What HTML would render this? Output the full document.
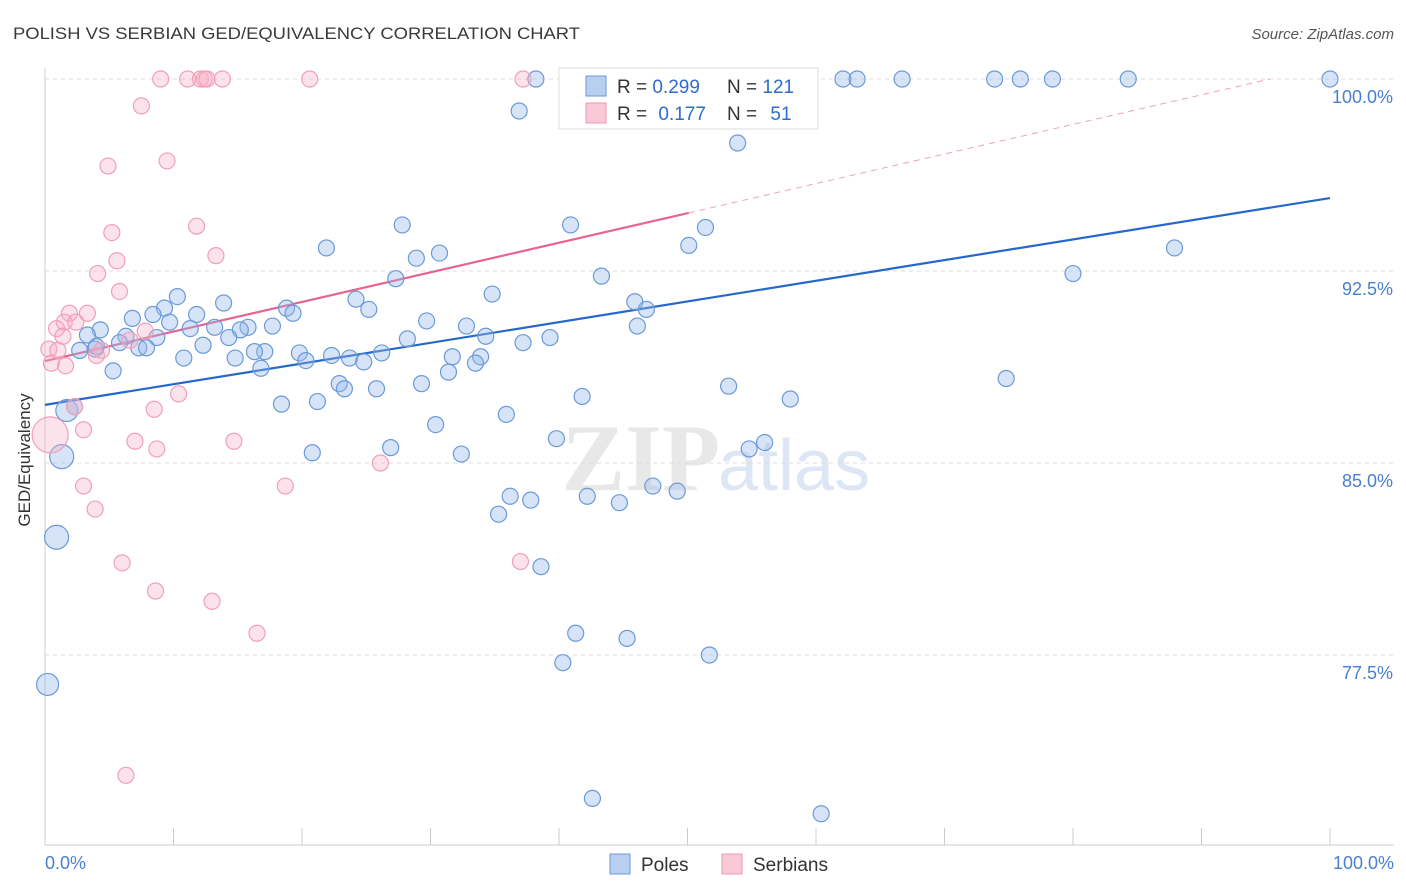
<!DOCTYPE html>
<html><head><meta charset="utf-8"><style>
body{margin:0;background:#fff;width:1406px;height:892px;overflow:hidden;font-family:"Liberation Sans",sans-serif}
svg{position:absolute;left:0;top:0}
</style></head><body>
<svg id="chart" width="1406" height="892" xmlns="http://www.w3.org/2000/svg">
<text x="13" y="39" font-size="17" fill="#3a3a3a" textLength="567" lengthAdjust="spacingAndGlyphs">POLISH VS SERBIAN GED/EQUIVALENCY CORRELATION CHART</text>
<text x="1394" y="39" font-size="15" fill="#555" font-style="italic" text-anchor="end">Source: ZipAtlas.com</text>
<text x="720" y="490" font-size="95" fill="#e8e8e8" text-anchor="end" font-family="Liberation Serif" font-weight="bold">ZIP</text>
<text x="718" y="490" font-size="72" fill="#dce6f4">atlas</text>
<g id="grid"></g><g id="axes"></g><g id="lines"></g><g id="pts"></g>
<text x="30" y="460" font-size="17" fill="#333" text-anchor="middle" transform="rotate(-90 30 460)">GED/Equivalency</text>
<text x="45" y="869" font-size="18" fill="#4a7fd0">0.0%</text>
<text x="1394" y="869" font-size="18" fill="#4a7fd0" text-anchor="end">100.0%</text>
<g>
<rect x="559" y="68" width="259" height="61" fill="#fff" stroke="#ddd"/>
<rect x="586" y="76" width="20" height="20" fill="#b8cff0" stroke="#6a9ad8"/>
<rect x="586" y="103" width="20" height="20" fill="#f8c8d6" stroke="#ee9ab4"/>
<text x="617" y="93" font-size="19" fill="#333">R = <tspan fill="#2f6ccc">0.299</tspan></text>
<text x="727" y="93" font-size="19" fill="#333">N = <tspan fill="#2f6ccc">121</tspan></text>
<text x="617" y="120" font-size="19" fill="#333">R = <tspan fill="#2f6ccc" dx="6">0.177</tspan></text>
<text x="727" y="120" font-size="19" fill="#333">N = <tspan fill="#2f6ccc" dx="8">51</tspan></text>
</g>
<g>
<rect x="610" y="854" width="20" height="20" fill="#b8cff0" stroke="#6a9ad8"/>
<text x="641" y="871" font-size="19" fill="#333">Poles</text>
<rect x="722" y="854" width="20" height="20" fill="#f8c8d6" stroke="#ee9ab4"/>
<text x="753" y="871" font-size="19" fill="#333">Serbians</text>
</g>
</svg>
<script>
const yTicks=[100,92.5,85,77.5];
const yTickLabels=["100.0%","92.5%","85.0%","77.5%"];
const xTicks=[0,10,20,30,40,50,60,70,80,90,100];
const polesX=[38.2,47.7,54.2,62.1,63.2,66.7,73.9,75.9,78.4,84.3,100,36.9,53.9,27.8,40.9,21.9,30.7,28.9,50.1,51.4,27.3,43.3,80.0,87.9,10.3,13.9,9.3,8.4,11.8,18.8,19.3,24.2,25.2,34.8,45.9,46.8,29.7,32.8,34.3,46.1,39.3,37.2,28.2,6.8,4.3,3.3,6.3,8.7,13.2,15.8,17.7,15.2,17.1,9.7,11.3,12.3,14.3,2.7,3.9,5.8,7.3,7.9,10.8,14.8,16.3,16.8,19.8,20.3,22.3,23.7,24.8,26.2,31.7,33.9,33.5,31.4,5.3,22.9,23.3,25.8,29.3,21.2,18.4,41.8,53.2,58.0,74.8,35.9,30.4,39.8,54.8,56.0,20.8,26.9,32.4,47.3,49.2,42.2,44.7,36.2,37.8,35.3,38.6,41.3,45.3,40.3,51.7,42.6,60.4,1.7,2.3,1.3,0.9,0.2,4.0];
const polesY=[100,100,100,100,100,100,100,100,100,100,100,98.75,97.5,94.3,94.3,93.4,93.2,93.0,93.5,94.2,92.2,92.3,92.4,93.4,91.5,91.25,91.05,90.8,90.8,91.05,90.85,91.4,91.0,91.6,91.3,91.0,90.55,90.35,89.95,90.35,89.9,89.7,89.85,90.65,90.2,90.0,89.95,89.9,90.3,90.3,90.35,90.2,89.35,90.5,90.25,89.6,89.9,89.4,89.45,89.7,89.5,89.5,89.1,89.1,89.35,88.7,89.3,89.0,89.2,89.1,88.95,89.3,89.15,89.15,88.9,88.55,88.6,88.1,87.9,87.9,88.1,87.4,87.3,87.6,88.0,87.5,88.3,86.9,86.5,85.95,85.55,85.8,85.4,85.6,85.35,84.1,83.9,83.7,83.45,83.7,83.55,83.0,80.95,78.35,78.15,77.2,77.5,71.9,71.3,87.05,87.2,85.25,82.1,76.35,89.55];
const polesSize=[8,8,8,8,8,8,8,8,8,8,8,8,8,8,8,8,8,8,8,8,8,8,8,8,8,8,8,8,8,8,8,8,8,8,8,8,8,8,8,8,8,8,8,8,8,8,8,8,8,8,8,8,8,8,8,8,8,8,8,8,8,8,8,8,8,8,8,8,8,8,8,8,8,8,8,8,8,8,8,8,8,8,8,8,8,8,8,8,8,8,8,8,8,8,8,8,8,8,8,8,8,8,8,8,8,8,8,8,8,11,8,12,12,11,8];
const serbX=[9.0,11.1,12.1,12.4,12.6,13.8,20.6,37.2,7.5,9.5,4.9,11.8,5.2,13.3,5.6,4.1,5.8,1.9,3.3,1.5,2.4,0.9,1.4,7.8,0.3,1.0,4.4,4.0,0.5,1.6,2.3,8.5,10.4,3.0,7.0,8.7,14.7,26.1,3.0,18.7,3.9,6.0,37.0,8.6,13.0,16.5,6.3,0.4,6.6];
const serbY=[100,100,100,100,100,100,100,100,98.95,96.8,96.6,94.25,94.0,93.1,92.9,92.4,91.7,90.85,90.85,90.5,90.5,90.25,89.95,90.15,89.45,89.4,89.4,89.2,88.9,88.8,87.2,87.1,87.7,86.3,85.85,85.55,85.85,85.0,84.1,84.1,83.2,81.1,81.15,80.0,79.6,78.35,72.8,86.1,89.8];
const serbSize=[8,8,8,8,8,8,8,8,8,8,8,8,8,8,8,8,8,8,8,8,8,8,8,8,8,8,8,8,8,8,8,8,8,8,8,8,8,8,8,8,8,8,8,8,8,8,8,18,8];
const polesTrend=[87.27,95.35];
const serbTrend=[88.98,94.77,100.54];
const serbTrendX=[0,50.1,100];
const NS="http://www.w3.org/2000/svg";
const X=v=>45+v*12.85, Y=v=>79+(100-v)*25.6;
function mk(tag,attrs,parent){const e=document.createElementNS(NS,tag);for(const k in attrs)e.setAttribute(k,attrs[k]);document.getElementById(parent).appendChild(e);return e;}
yTicks.forEach((t,i)=>{
 const l=mk('line',{x1:45,x2:1394,y1:Y(t),y2:Y(t),stroke:'#ddd','stroke-dasharray':'4,4'},'grid');
 
 
 const tx=mk('text',{x:1393,y:Y(t)+24,'font-size':18,fill:'#4a7fd0','text-anchor':'end'},'grid');tx.textContent=yTickLabels[i];
 
 
});
const ya=mk('line',{x1:45,x2:45,y1:68,y2:845,stroke:'#ccc'},'axes');


const xa=mk('line',{x1:45,x2:1394,y1:845,y2:845,stroke:'#ccc'},'axes');


xTicks.forEach(t=>{const l=mk('line',{x1:X(t),x2:X(t),y1:828,y2:845,stroke:'#ccc'},'axes');
 
 });
const bl=mk('line',{x1:X(0),y1:Y(polesTrend[0]),x2:X(100),y2:Y(polesTrend[1]),stroke:'#2468cc','stroke-width':2.2},'lines');


const pl=mk('line',{x1:X(serbTrendX[0]),y1:Y(serbTrend[0]),x2:X(serbTrendX[1]),y2:Y(serbTrend[1]),stroke:'#e8638f','stroke-width':2.2},'lines');


const t2=(100-serbTrend[1])/(serbTrend[2]-serbTrend[1]);
const pd=mk('line',{x1:X(serbTrendX[1]),y1:Y(serbTrend[1]),x2:X(serbTrendX[1]+(serbTrendX[2]-serbTrendX[1])*t2),y2:Y(100),stroke:'#f0a0b8','stroke-width':1,'stroke-dasharray':'6,5'},'lines');


polesX.forEach((v,i)=>{const c=mk('circle',{cx:X(v),cy:Y(polesY[i]),r:polesSize[i],fill:'rgba(150,185,235,0.38)',stroke:'#6a9ad8','stroke-width':1.2},'pts');
 
 });
serbX.forEach((v,i)=>{const c=mk('circle',{cx:X(v),cy:Y(serbY[i]),r:serbSize[i],fill:'rgba(245,175,198,0.35)',stroke:'#f0a0b8','stroke-width':1.2},'pts');
 
 });
</script>
</body></html>
